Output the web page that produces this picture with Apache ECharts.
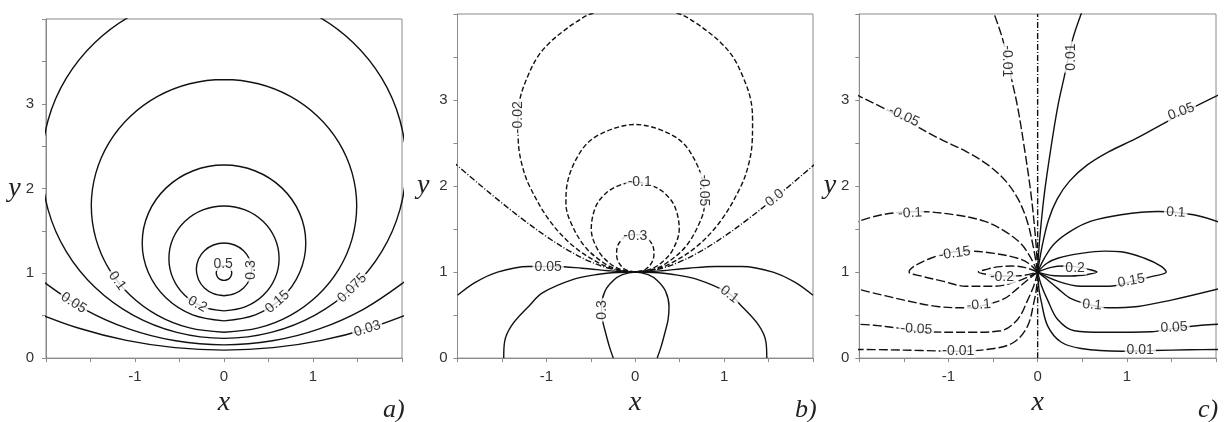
<!DOCTYPE html>
<html>
<head>
<meta charset="utf-8">
<script src="https://cdn.jsdelivr.net/npm/echarts@6/dist/echarts.min.js"></script>
<style>
  html, body { margin: 0; background: #fff; }
  #chart { width: 1225px; height: 422px; }
</style>
</head>
<body>
<div id="chart"></div>
<script>
// ---- panel a : closed contours, points [x, y] ----
const a05 = [[0,1.091],[0.033,1.084],[0.062,1.066],[0.08,1.037],[0.087,1.004],[0.08,0.971],[0.062,0.942],[0.033,0.924],[0,0.917],[-0.033,0.924],[-0.062,0.942],[-0.08,0.971],[-0.087,1.004],[-0.08,1.037],[-0.062,1.066],[-0.033,1.084],[0,1.091]];
const a03 = [[0,0.736],[0.119,0.76],[0.22,0.827],[0.287,0.928],[0.311,1.047],[0.287,1.166],[0.22,1.267],[0.119,1.334],[0,1.358],[-0.119,1.334],[-0.22,1.267],[-0.287,1.166],[-0.311,1.047],[-0.287,0.928],[-0.22,0.827],[-0.119,0.76],[0,0.736]];
const a02 = [[0,0.557],[0.237,0.604],[0.438,0.738],[0.572,0.939],[0.619,1.176],[0.572,1.413],[0.438,1.614],[0.237,1.748],[0,1.795],[-0.237,1.748],[-0.438,1.614],[-0.572,1.413],[-0.619,1.176],[-0.572,0.939],[-0.438,0.738],[-0.237,0.604],[0,0.557]];
const a015 = [[0,0.439],[0.352,0.509],[0.65,0.708],[0.849,1.006],[0.919,1.358],[0.849,1.71],[0.65,2.008],[0.352,2.207],[0,2.277],[-0.352,2.207],[-0.65,2.008],[-0.849,1.71],[-0.919,1.358],[-0.849,1.006],[-0.65,0.708],[-0.352,0.509],[0,0.439]];
const a01 = [[0,0.305],[0.386,0.356],[0.746,0.505],[1.054,0.742],[1.291,1.05],[1.44,1.41],[1.491,1.796],[1.44,2.182],[1.291,2.542],[1.054,2.85],[0.746,3.087],[0.386,3.236],[0,3.287],[-0.386,3.236],[-0.746,3.087],[-1.054,2.85],[-1.291,2.542],[-1.44,2.182],[-1.491,1.796],[-1.44,1.41],[-1.291,1.05],[-1.054,0.742],[-0.746,0.505],[-0.386,0.356],[0,0.305]];
const a0075 = [[-0.53,4.255],[-1.023,4.051],[-1.447,3.726],[-1.772,3.302],[-1.976,2.809],[-2.046,2.279],[-1.976,1.749],[-1.772,1.256],[-1.447,0.832],[-1.023,0.507],[-0.53,0.303],[0,0.233],[0.53,0.303],[1.023,0.507],[1.447,0.832],[1.772,1.256],[1.976,1.749],[2.046,2.279],[1.976,2.809],[1.772,3.302],[1.447,3.726],[1.023,4.051],[0.53,4.255]];
const a005 = [[-2.214,1.073],[-2.013,0.889],[-1.566,0.576],[-1.071,0.345],[-0.544,0.204],[0,0.156],[0.544,0.204],[1.071,0.345],[1.566,0.576],[2.013,0.889],[2.214,1.073]];
const a003 = [[-2.145,0.55],[-1.629,0.352],[-1.096,0.209],[-0.551,0.123],[0,0.094],[0.551,0.123],[1.096,0.209],[1.629,0.352],[2.145,0.55]];
const aSolid = [a05, a03, a02, a015, a01, a0075, a005, a003];
// contour labels: text, x, y, angle
const aLabels = [['0.5',-0.01,1.11,0],['0.3',0.3,1.04,90],['0.2',-0.3,0.635,-29],['0.15',0.6,0.662,41],
  ['0.1',-1.2,0.911,-54],['0.075',1.44,0.826,45],['0.05',-1.69,0.651,-33],['0.03',1.61,0.346,17]];

// ---- panel b ----
const bNeg002 = [[0,1],[-0.22,1.03],[-0.4,1.1],[-0.695,1.3],[-0.965,1.6],[-1.19,2],[-1.275,2.25],[-1.315,2.5],[-1.32,2.75],[-1.3,3],[-1.22,3.25],[-1.1,3.5],[-0.96,3.67],[-0.81,3.8],[-0.66,3.91],[-0.5,4],[0,4.11],[0.5,4],[0.66,3.91],[0.81,3.8],[0.96,3.67],[1.1,3.5],[1.22,3.25],[1.3,3],[1.32,2.75],[1.315,2.5],[1.275,2.25],[1.19,2],[0.965,1.6],[0.695,1.3],[0.4,1.1],[0.22,1.03],[0,1]];
const bNeg005 = [[0,1],[-0.19,1.03],[-0.345,1.1],[-0.57,1.3],[-0.735,1.6],[-0.78,1.8],[-0.77,2],[-0.615,2.4],[-0.4,2.6],[0,2.715],[0.4,2.6],[0.615,2.4],[0.77,2],[0.78,1.8],[0.735,1.6],[0.57,1.3],[0.345,1.1],[0.19,1.03],[0,1]];
const bNeg01 = [[0,1],[-0.161,1.03],[-0.285,1.1],[-0.417,1.25],[-0.495,1.5],[-0.449,1.75],[-0.348,1.9],[-0.2,2],[0,2.045],[0.2,2],[0.348,1.9],[0.449,1.75],[0.495,1.5],[0.417,1.25],[0.285,1.1],[0.161,1.03],[0,1]];
const bNeg03 = [[0,1],[-0.11,1.03],[-0.18,1.1],[-0.21,1.2],[-0.2,1.3],[-0.14,1.39],[-0.08,1.43],[0,1.435],[0.08,1.43],[0.14,1.39],[0.2,1.3],[0.21,1.2],[0.18,1.1],[0.11,1.03],[0,1]];
const bZeroL = [[-2.05,2.28],[-1.75,2.016],[-1.5,1.803],[-1.25,1.601],[-1,1.414],[-0.75,1.25],[-0.5,1.118],[-0.25,1.031],[0,1]];
const bZeroR = [[0,1],[0.25,1.031],[0.5,1.118],[0.75,1.25],[1,1.414],[1.25,1.601],[1.5,1.803],[1.75,2.016],[2.05,2.28]];
const b005 = [[-2,0.73],[-1.8,0.88],[-1.55,1],[-1.2,1.065],[-0.9,1.065],[-0.6,1.045],[-0.3,1.016],[-0.15,1.004],[0,1],[0.15,1.004],[0.3,1.016],[0.6,1.045],[0.9,1.065],[1.2,1.065],[1.55,1],[1.8,0.88],[2,0.73]];
const b01 = [[-1.48,0],[-1.47,0.19],[-1.39,0.38],[-1.2,0.6],[-1.04,0.76],[-0.68,0.92],[-0.41,0.975],[-0.2,0.995],[0,1],[0.2,0.995],[0.41,0.975],[0.68,0.92],[1.04,0.76],[1.2,0.6],[1.39,0.38],[1.47,0.19],[1.48,0]];
const b03 = [[-0.247,0],[-0.29,0.13],[-0.33,0.28],[-0.37,0.45],[-0.38,0.6],[-0.34,0.78],[-0.25,0.9],[-0.145,0.97],[0,1],[0.145,0.97],[0.25,0.9],[0.34,0.78],[0.38,0.6],[0.37,0.45],[0.33,0.28],[0.29,0.13],[0.247,0]];
const bDashed = [bNeg002, bNeg005, bNeg01, bNeg03];
const bDashDot = [bZeroL, bZeroR];
const bSolid = [b005, b01, b03];
const bLabels = [['-0.02',-1.32,2.8,90],['-0.05',0.77,1.95,-90],['-0.1',0.05,2.04,0],['-0.3',0,1.42,0],
  ['0.0',1.57,1.86,40],['0.05',-0.98,1.06,0],['0.1',1.06,0.74,-38],['0.3',-0.375,0.56,90]];

// ---- panel c ----
const cPos02 = [[0,1],[0.15,1.055],[0.3,1.07],[0.45,1.06],[0.56,1.035],[0.665,1],[0.56,0.972],[0.375,0.955],[0.187,0.958],[0,1]];
const cPos015 = [[0,1],[0.1,1.1],[0.225,1.161],[0.487,1.217],[0.749,1.243],[0.936,1.236],[1.199,1.161],[1.386,1.067],[1.442,1],[1.311,0.955],[1.067,0.895],[0.805,0.835],[0.487,0.835],[0.225,0.894],[0,1]];
const cPos01Up = [[0,1],[0.08,1.17],[0.187,1.33],[0.375,1.479],[0.599,1.592],[0.936,1.667],[1.348,1.704],[1.536,1.695],[1.798,1.655],[2.05,1.575]];
const cPos01Low = [[0,1],[0.1,0.92],[0.225,0.81],[0.375,0.69],[0.6,0.615],[0.787,0.585],[1.124,0.6],[1.498,0.674],[2.05,0.81]];
const cPos005Up = [[0,1],[0.05,1.3],[0.12,1.6],[0.22,1.85],[0.36,2.06],[0.55,2.24],[0.8,2.4],[1.1,2.55],[1.4,2.72],[1.7,2.89],[2.05,3.07]];
const cPos005Low = [[0,1],[0.04,0.85],[0.112,0.674],[0.225,0.449],[0.412,0.318],[0.749,0.3],[1.273,0.307],[1.536,0.345],[1.835,0.382],[2.05,0.395]];
const cPos001Up = [[0,1],[0.02,1.35],[0.075,1.91],[0.15,2.45],[0.225,2.921],[0.3,3.277],[0.393,3.708],[0.487,4],[0.52,4.1]];
const cPos001Low = [[0,1],[0.015,0.8],[0.037,0.674],[0.112,0.375],[0.262,0.187],[0.487,0.112],[0.936,0.08],[1.3,0.088],[1.7,0.097],[2.05,0.1]];
const cNeg02 = [[0,1],[-0.15,1.055],[-0.3,1.07],[-0.45,1.06],[-0.56,1.035],[-0.665,1],[-0.56,0.972],[-0.375,0.955],[-0.187,0.958],[0,1]];
const cNeg015 = [[0,1],[-0.1,1.1],[-0.225,1.161],[-0.487,1.217],[-0.749,1.243],[-0.936,1.236],[-1.199,1.161],[-1.386,1.067],[-1.442,1],[-1.311,0.955],[-1.067,0.895],[-0.805,0.835],[-0.487,0.835],[-0.225,0.894],[0,1]];
const cNeg01Up = [[0,1],[-0.08,1.17],[-0.187,1.33],[-0.375,1.479],[-0.599,1.592],[-0.936,1.667],[-1.348,1.704],[-1.536,1.695],[-1.798,1.655],[-2.05,1.575]];
const cNeg01Low = [[0,1],[-0.1,0.92],[-0.225,0.81],[-0.375,0.69],[-0.6,0.615],[-0.787,0.585],[-1.124,0.6],[-1.498,0.674],[-2.05,0.81]];
const cNeg005Up = [[0,1],[-0.05,1.3],[-0.12,1.6],[-0.22,1.85],[-0.36,2.06],[-0.55,2.24],[-0.8,2.4],[-1.1,2.55],[-1.4,2.72],[-1.7,2.89],[-2.05,3.07]];
const cNeg005Low = [[0,1],[-0.04,0.85],[-0.112,0.674],[-0.225,0.449],[-0.412,0.318],[-0.749,0.3],[-1.273,0.307],[-1.536,0.345],[-1.835,0.382],[-2.05,0.395]];
const cNeg001Up = [[0,1],[-0.02,1.35],[-0.075,1.91],[-0.15,2.45],[-0.225,2.921],[-0.3,3.277],[-0.393,3.708],[-0.487,4],[-0.52,4.1]];
const cNeg001Low = [[0,1],[-0.015,0.8],[-0.037,0.674],[-0.112,0.375],[-0.262,0.187],[-0.487,0.112],[-0.936,0.08],[-1.3,0.088],[-1.7,0.097],[-2.05,0.1]];
const cZero = [[0,0],[0,4]];
const cSolid = [cPos02, cPos015, cPos01Up, cPos01Low, cPos005Up, cPos005Low, cPos001Up, cPos001Low];
const cDashed = [cNeg02, cNeg015, cNeg01Up, cNeg01Low, cNeg005Up, cNeg005Low, cNeg001Up, cNeg001Low];
const cDashDot = [cZero];
const cLabels = [['-0.01',-0.34,3.45,-90],['0.01',0.375,3.5,90],['-0.05',-1.5,2.81,-25],['0.05',1.61,2.865,20],
  ['-0.1',-1.43,1.685,3],['0.1',1.55,1.693,-3],['-0.15',-0.93,1.217,8],['0.15',1.05,0.899,10],
  ['-0.2',-0.4,0.944,0],['0.2',0.42,1.05,0],['0.1',0.61,0.618,-5],['-0.1',-0.66,0.618,5],
  ['-0.05',-1.36,0.337,-3],['0.05',1.53,0.356,3],['-0.01',-0.89,0.086,0],['0.01',1.15,0.094,0]];

const xTicks = [-1, 0, 1];
const yTicks = [0, 1, 2, 3];
const panelNames = ['a)', 'b)', 'c)'];

const LINE = '#111';
const FRAME = '#8a8a8a';

const grids = [
  { left: 46, top: 19, width: 356, height: 351 },
  { left: 457.5, top: 14, width: 355.5, height: 356 },
  { left: 859.3, top: 14, width: 356.7, height: 356 }
].map(g => Object.assign({ show: true, borderColor: FRAME, borderWidth: 1, containLabel: false }, g));

const yNameGaps = [24, 28, 23];
const yLabelMargins = [12, 10, 10];

const xAxes = grids.map((g, i) => ({
  gridIndex: i, type: 'value', min: -2, max: 2, interval: 0.5,
  axisLine: { show: true, onZero: false, lineStyle: { color: FRAME } },
  axisTick: { show: true, length: 4, lineStyle: { color: FRAME } },
  splitLine: { show: false },
  axisLabel: {
    color: '#333', fontSize: 15, fontFamily: 'Liberation Sans', margin: 11,
    formatter: v => xTicks.includes(v) ? String(v) : ''
  },
  name: 'x', nameLocation: 'middle', nameGap: 27,
  nameTextStyle: { fontFamily: 'Liberation Serif', fontStyle: 'italic', fontSize: 28, color: '#222' }
}));

const yAxes = grids.map((g, i) => ({
  gridIndex: i, type: 'value', min: 0, max: 4, interval: 0.5,
  axisLine: { show: true, onZero: false, lineStyle: { color: FRAME } },
  axisTick: { show: true, length: 4, lineStyle: { color: FRAME } },
  splitLine: { show: false },
  axisLabel: {
    color: '#333', fontSize: 15, fontFamily: 'Liberation Sans', margin: yLabelMargins[i],
    formatter: v => yTicks.includes(v) ? String(v) : ''
  },
  name: 'y', nameLocation: 'middle', nameRotate: 0, nameGap: yNameGaps[i],
  nameTextStyle: { fontFamily: 'Liberation Serif', fontStyle: 'italic', fontSize: 28, color: '#222' }
}));

function lineSeries(idx, lines, dash) {
  return lines.map(pts => ({
    type: 'line', xAxisIndex: idx, yAxisIndex: idx, data: pts,
    smooth: 0.35, showSymbol: false, symbol: 'none', silent: true, clip: true,
    lineStyle: { color: LINE, width: 1.4, type: dash },
    z: 2
  }));
}

function labelSeries(idx, labels) {
  return {
    type: 'scatter', xAxisIndex: idx, yAxisIndex: idx, symbolSize: 0, silent: true, z: 5,
    data: labels.map(l => ({ value: [l[1], l[2]], name: l[0], label: { rotate: l[3] } })),
    label: {
      show: true, position: 'inside', formatter: '{b}', color: '#000',
      fontSize: 14, fontFamily: 'Liberation Sans',
      backgroundColor: '#fff', padding: [0, 2]
    }
  };
}

const DASH_B = [5, 2.5];
const DASH_C = [9, 3];
const DASH_DOT = [6, 2, 1, 2];

const series = [].concat(
  lineSeries(0, aSolid, 'solid'),
  [labelSeries(0, aLabels)],
  lineSeries(1, bSolid, 'solid'),
  lineSeries(1, bDashed, DASH_B),
  lineSeries(1, bDashDot, DASH_DOT),
  [labelSeries(1, bLabels)],
  lineSeries(2, cSolid, 'solid'),
  lineSeries(2, cDashed, DASH_C),
  lineSeries(2, cDashDot, DASH_DOT),
  [labelSeries(2, cLabels)]
);

const letterX = [383, 795, 1198];
const graphic = panelNames.map((t, i) => ({
  type: 'text', x: letterX[i], y: 410,
  style: { text: t, fontSize: 26, fontStyle: 'italic', fontFamily: 'Liberation Serif', fill: '#222', verticalAlign: 'middle' }
}));

const chart = echarts.init(document.getElementById('chart'), null, { renderer: 'canvas' });
chart.setOption({
  animation: false,
  backgroundColor: '#fff',
  grid: grids,
  xAxis: xAxes,
  yAxis: yAxes,
  series: series,
  graphic: graphic
});
</script>
</body>
</html>
